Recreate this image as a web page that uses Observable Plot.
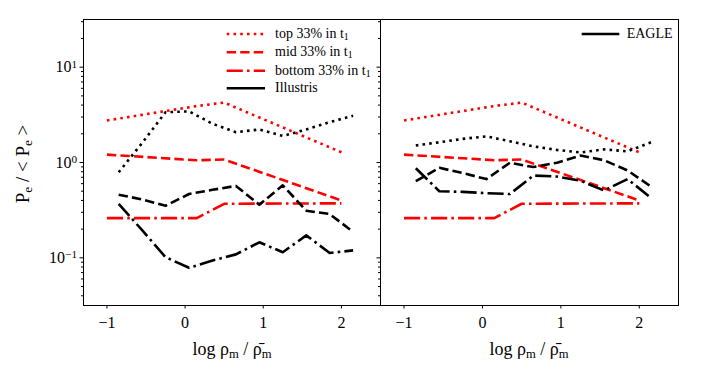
<!DOCTYPE html>
<html><head><meta charset="utf-8">
<script src="https://cdn.jsdelivr.net/npm/d3@7"></script>
<script src="https://cdn.jsdelivr.net/npm/@observablehq/plot@0.6"></script>
<style>
body{margin:0;background:#fff;}
#wrap{position:relative;width:706px;height:372px;font-family:"Liberation Serif",serif;color:#000;overflow:hidden;}
#wrap > svg{position:absolute;top:0;overflow:visible;}
#wrap svg text{font-family:"Liberation Serif",serif !important;}
.lbl{position:absolute;white-space:nowrap;line-height:1;font-family:"Liberation Serif",serif;}
.lbl sub{font-size:0.7em;vertical-align:-0.25em;line-height:0;}
</style></head><body><div id="wrap"></div>
<script>
// ---- data ----
const xTicks = [-1, 0, 1, 2];
const yMajor = [0.1, 1, 10];
const yMinor = [0.04,0.05,0.06,0.07,0.08,0.09,0.2,0.3,0.4,0.5,0.6,0.7,0.8,0.9,2,3,4,5,6,7,8,9,20,30];

// red reference curves (same in both panels)
const redX   = [-1, 0.15, 0.5, 2];
const redTop = [2.76, 3.91, 4.25, 1.28];
const redMid = [1.21, 1.056, 1.074, 0.40];
const redBot = [0.261, 0.261, 0.369, 0.373];

// black simulation curves
const binX   = [-0.85, -0.55, -0.25, 0.05, 0.35, 0.65, 0.95, 1.25, 1.55, 1.85, 2.15];
const illTop = [0.79, 1.60, 3.37, 3.44, 2.55, 2.08, 2.22, 1.90, 2.22, 2.65, 3.09];
const illMid = [0.459, 0.410, 0.352, 0.467, 0.517, 0.568, 0.361, 0.576, 0.312, 0.288, 0.187];
const illBot = [0.369, 0.195, 0.1015, 0.0787, 0.0936, 0.1087, 0.1455, 0.1145, 0.172, 0.1124, 0.1197];
const eagTop = [1.51, 1.63, 1.77, 1.88, 1.67, 1.475, 1.355, 1.273, 1.373, 1.309, 1.63];
const eagMid = [0.636, 0.879, 0.774, 0.670, 0.994, 0.896, 0.994, 1.182, 1.056, 0.826, 0.559];
const eagBot = [0.870, 0.500, 0.492, 0.476, 0.467, 0.730, 0.713, 0.644, 0.509, 0.670, 0.426];

const legendLeft = ["top 33% in t", "mid 33% in t", "bottom 33% in t", "Illustris"];
const legendRight = ["EAGLE"];

// ---- styles ----
const LW = 2.6;
const DOT = `${LW},${LW*1.6}`;
const DASH = `${LW*3.6},${LW*1.6}`;
const DASHDOT = `${LW*6.2},${LW*1.6},${LW},${LW*1.6}`;

const pts = (xs, ys) => xs.map((x, i) => ({x, y: ys[i]}));
const supMap = {"-1": "−1", "0": "0", "1": "1"};

function panel(sim, opts) {
  const series = [
    [pts(redX, redTop), "red", DOT],
    [pts(redX, redMid), "red", DASH],
    [pts(redX, redBot), "red", DASHDOT],
    [pts(binX, sim[0]), "black", DOT],
    [pts(binX, sim[1]), "black", DASH],
    [pts(binX, sim[2]), "black", DASHDOT]
  ];
  const svg = Plot.plot({
    width: opts.width, height: 372,
    marginTop: 19, marginBottom: 67, marginLeft: opts.ml, marginRight: opts.mr,
    style: {background: "transparent", fontFamily: "Liberation Serif, serif", fontSize: "16px", color: "black", overflow: "visible"},
    x: {domain: [-1.3, 2.5]},
    y: {type: "log", domain: [Math.pow(10, -1.5), Math.pow(10, 1.5)]},
    marks: [
      ...series.map(([d, c, da]) => Plot.line(d, {x: "x", y: "y", stroke: c, strokeWidth: LW, strokeDasharray: da, strokeLinecap: "butt", strokeLinejoin: "round"})),
      Plot.frame({stroke: "black", strokeWidth: 1}),
      Plot.axisX({ticks: xTicks, tickSize: 3.5, tickPadding: 8, label: null,
        tickFormat: d => d < 0 ? "−" + Math.abs(d) : String(d)}),
      Plot.axisY({ticks: yMajor, tickSize: 3.5, tickPadding: 3, label: null,
        tickFormat: opts.labels ? (d => "10^" + Math.round(Math.log10(d))) : (() => "")}),
      Plot.axisY({ticks: yMinor, tickSize: 2, label: null, tickFormat: () => ""})
    ]
  });
  svg.style.left = opts.left + "px";
  svg.querySelectorAll("text").forEach(t => {
    t.setAttribute("font-family", "Liberation Serif, serif");
    const s = t.textContent;
    if (s.startsWith("10^")) {
      const e = s.slice(3);
      t.textContent = "10";
      const ts = document.createElementNS("http://www.w3.org/2000/svg", "tspan");
      ts.setAttribute("dy", "-0.42em");
      ts.setAttribute("font-size", "0.7em");
      ts.textContent = supMap[e] ?? e;
      t.appendChild(ts);
    }
  });
  return svg;
}

const wrap = document.getElementById("wrap");
wrap.appendChild(panel([illTop, illMid, illBot], {width: 381, ml: 83, mr: 1, left: 0, labels: true}));
wrap.appendChild(panel([eagTop, eagMid, eagBot], {width: 331, ml: 5, mr: 28, left: 375, labels: false}));

// ---- html labels & legends ----
function label(html, x, y, size, extra = "") {
  const d = document.createElement("div");
  d.className = "lbl";
  d.innerHTML = html;
  d.style.cssText = `left:${x}px;top:${y}px;font-size:${size}px;${extra}`;
  wrap.appendChild(d);
  return d;
}
label("log ρ<sub>m</sub> / ρ̄<sub>m</sub>", 232, 349, 18, "transform:translate(-50%,-50%);");
label("log ρ<sub>m</sub> / ρ̄<sub>m</sub>", 529, 349, 18, "transform:translate(-50%,-50%);");
label("P<sub>e</sub> / &lt; P<sub>e</sub> &gt;", 22, 164, 19, "transform:translate(-50%,-50%) rotate(-90deg);");

function legendRow(x0, x1, tx, yc, color, dash, html) {
  const ns = "http://www.w3.org/2000/svg";
  const s = document.createElementNS(ns, "svg");
  s.setAttribute("width", 706); s.setAttribute("height", 372);
  s.style.cssText = "position:absolute;left:0;top:0;pointer-events:none;";
  const l = document.createElementNS(ns, "line");
  l.setAttribute("x1", x0); l.setAttribute("x2", x1);
  l.setAttribute("y1", yc); l.setAttribute("y2", yc);
  l.setAttribute("stroke", color); l.setAttribute("stroke-width", LW);
  if (dash) l.setAttribute("stroke-dasharray", dash);
  s.appendChild(l);
  wrap.appendChild(s);
  label(html, tx, yc, 14, "transform:translateY(-50%);");
}
const rowsY = [34, 52.3, 70.7, 88.3];
const legStyles = [["red", DOT], ["red", DASH], ["red", DASHDOT], ["black", null]];
legendLeft.forEach((t, i) => {
  const html = t.endsWith(" t") ? t + "<sub>1</sub>" : t;
  legendRow(226.7, 265, 275, rowsY[i], legStyles[i][0], legStyles[i][1], html);
});
legendRow(581.7, 619.3, 626.7, 34, "black", null, legendRight[0]);
</script></body></html>
